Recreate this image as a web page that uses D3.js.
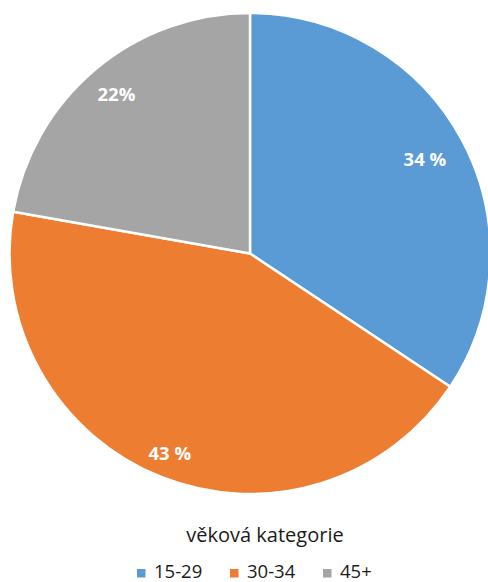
<!DOCTYPE html>
<html>
<head>
<meta charset="utf-8">
<script src="https://cdn.jsdelivr.net/npm/d3@7"></script>
<style>
  html, body { margin: 0; padding: 0; background: #fff; }
  svg { display: block; }
</style>
</head>
<body>
<svg id="chart" width="488" height="582"></svg>
<script>
// Age-group shares
const categories = ["15-29", "30-34", "45+"];
const values = [34, 43, 22];
const valueLabels = ["34 %", "43 %", "22%"];
const legendTitle = "věková kategorie";

const colors = ["#5B9BD5", "#ED7D31", "#A5A5A5"];
// how far out (fraction of radius) each data label sits
const labelRadius = [0.825, 0.897, 0.864];

const W = 488, H = 582;
const cx = 250, cy = 253.5, R = 240.5;

const svg = d3.select("#chart");
const g = svg.append("g").attr("transform", `translate(${cx},${cy})`);

const pie = d3.pie().sort(null).value(d => d.value);
const arcs = pie(categories.map((c, i) => ({ cat: c, value: values[i], label: valueLabels[i], i })));

const arc = d3.arc().innerRadius(0).outerRadius(R);

g.selectAll("path.slice")
  .data(arcs)
  .join("path")
  .attr("class", "slice")
  .attr("d", arc)
  .attr("fill", d => colors[d.data.i])
  .attr("stroke", "#fff")
  .attr("stroke-width", 2.5)
  .attr("stroke-linejoin", "round");

g.selectAll("text.lbl")
  .data(arcs)
  .join("text")
  .attr("class", "lbl")
  .attr("transform", d => {
    const a = (d.startAngle + d.endAngle) / 2;
    const r = R * labelRadius[d.data.i];
    return `translate(${r * Math.sin(a)},${-r * Math.cos(a)})`;
  })
  .attr("text-anchor", "middle")
  .attr("dy", "0.36em")
  .attr("fill", "#fff")
  .style("font-family", "'Open Sans', sans-serif")
  .style("font-weight", "700")
  .style("font-size", "18.5px")
  .text(d => d.data.label);

// legend title
svg.append("text")
  .attr("x", 265)
  .attr("y", 542)
  .attr("text-anchor", "middle")
  .attr("fill", "#1a1a1a")
  .style("font-family", "'Open Sans', sans-serif")
  .style("font-size", "20px")
  .text(legendTitle);

// legend entries
const legendX = d3.scaleOrdinal().domain(categories).range([137, 230, 323]);
const leg = svg.append("g").selectAll("g")
  .data(categories)
  .join("g")
  .attr("transform", d => `translate(${legendX(d)},0)`);

leg.append("rect")
  .attr("x", 0).attr("y", 569)
  .attr("width", 8.5).attr("height", 8.5)
  .attr("fill", (d, i) => colors[i]);

leg.append("text")
  .attr("x", 17)
  .attr("y", 578)
  .attr("fill", "#1a1a1a")
  .style("font-family", "'Open Sans', sans-serif")
  .style("font-size", "18.5px")
  .text(d => d);
</script>
</body>
</html>
